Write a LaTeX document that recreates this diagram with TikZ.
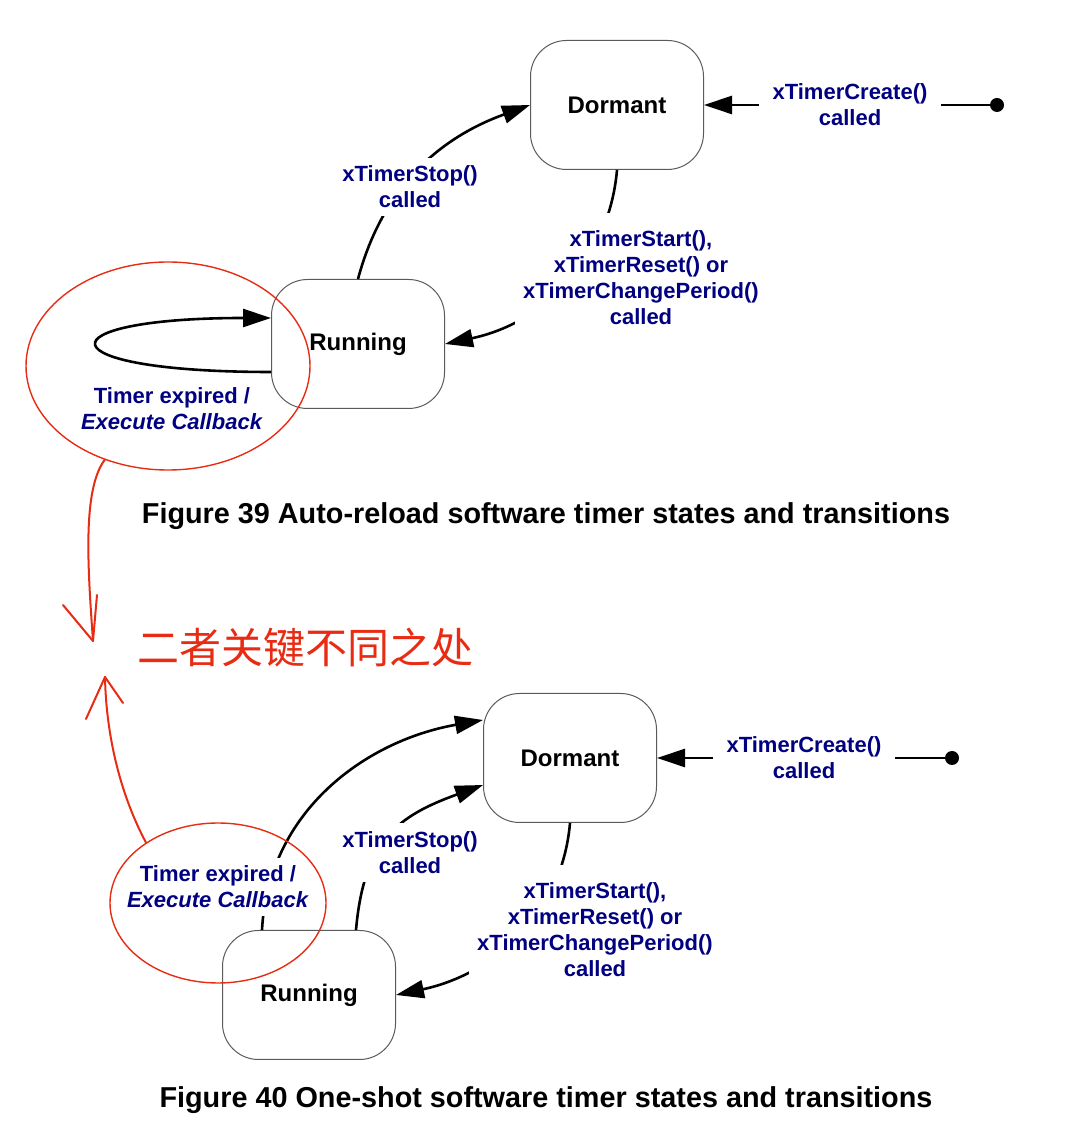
\documentclass[tikz,border=0pt]{standalone}
\usepackage{fontspec}
\setmainfont{Liberation Sans}
\newfontfamily\cjkfont{Noto Sans CJK SC}
\usetikzlibrary{arrows.meta,shapes.geometric}
\definecolor{navy}{RGB}{0,0,128}
\definecolor{redpen}{RGB}{232,44,20}
\definecolor{boxline}{RGB}{90,90,90}

\begin{document}
\begin{tikzpicture}[x=0.5pt,y=0.5pt,
    state/.style={draw=boxline,line width=0.5pt,rounded corners=18pt,
                  minimum width=86.5pt,minimum height=64.5pt,
                  font=\fontsize{12}{14}\selectfont\bfseries},
    lbl/.style={fill=white,inner sep=4pt,align=center,text=navy,
                font=\fontsize{11}{13}\selectfont\bfseries},
    trans/.style={line width=1.3pt,-{Triangle[length=14pt,width=9pt]}},
    wire/.style={line width=1.3pt},
    dotnode/.style={circle,fill,inner sep=0pt,minimum size=7pt},
    ring/.style={ellipse,draw=redpen,line width=0.7pt,inner sep=0pt},
    hand/.style={redpen,line width=1pt,line cap=round},
    capt/.style={font=\fontsize{14.4}{16}\selectfont\bfseries}]
  \useasboundingbox (0,0) rectangle (1066,1130);
  % auto-reload timer
  \node[state] (dorm1) at (617,1025) {Dormant};
  \node[state] (run1)  at (358,786)  {Running};
  \draw[trans] (run1.north) to[out=75,in=200] (dorm1.west);
  \draw[trans] (dorm1.south) to[out=-95,in=12] (run1.east);
  \draw[trans] ([yshift=-14pt]run1.west) .. controls +(-230,0) and +(-230,0)
    .. ([yshift=13pt]run1.west);
  \node[lbl] (stop1) at (410,943) {xTimerStop()\\called};
  \node[lbl,inner ysep=9pt] (start1) at (641,852)
    {xTimerStart(),\\xTimerReset() or\\xTimerChangePeriod()\\called};
  \node[lbl,fill=none] (expire1) at (172,721)
    {Timer expired /\\\textit{Execute Callback}};
  \node[lbl,inner xsep=6.5pt] (create1) at (850,1025) {xTimerCreate()\\called};
  \node[dotnode] (init1) at (997,1025) {};
  \draw[trans] (create1.west) -- (dorm1.east);
  \draw[wire] (create1.east) -- (init1);
  \node[capt] (cap1) at (546,614)
    {Figure 39 Auto-reload software timer states and transitions};
  % one-shot timer
  \node[state] (dorm2) at (570,372) {Dormant};
  \node[state] (run2)  at (309,135) {Running};
  \draw[trans] ([xshift=-23.5pt]run2.north) to[out=87,in=190] ([yshift=19pt]dorm2.west);
  \draw[trans] ([xshift=23.5pt]run2.north) to[out=85,in=200,looseness=1.2]
    ([yshift=-13.5pt]dorm2.west);
  \draw[trans] (dorm2.south) to[out=-95,in=12] (run2.east);
  \node[lbl] (expire2) at (218,243) {Timer expired /\\\textit{Execute Callback}};
  \node[lbl] (stop2) at (410,277.5) {xTimerStop()\\called};
  \node[lbl,inner ysep=9pt] (start2) at (595,200)
    {xTimerStart(),\\xTimerReset() or\\xTimerChangePeriod()\\called};
  \node[lbl,inner xsep=6.5pt] (create2) at (804,372) {xTimerCreate()\\called};
  \node[dotnode] (init2) at (952,372) {};
  \draw[trans] (create2.west) -- (dorm2.east);
  \draw[wire] (create2.east) -- (init2);
  \node[capt] (cap2) at (546,30)
    {Figure 40 One-shot software timer states and transitions};
  % red pen notes
  \node[ring,minimum width=142pt,minimum height=104pt] (ring1) at (168,764) {};
  \node[ring,minimum width=108pt,minimum height=80pt] (ring2) at (218,227) {};
  \node[text=redpen,font=\cjkfont\fontsize{21}{24}\selectfont] (note) at (305,482)
    {二者关键不同之处};
  \coordinate (downtip) at (93,489);
  \draw[hand] (ring1.236) .. controls (82,640) and (88,560) .. (downtip);
  \draw[hand] (downtip) -- ++(-30,36);
  \draw[hand] (downtip) -- ++(4,46);
  \coordinate (uptip) at (105,453);
  \draw[hand] (ring2.140) .. controls (118,340) and (106,400) .. (uptip);
  \draw[hand] (uptip) -- ++(-19,-42);
  \draw[hand] (uptip) -- ++(18,-26);
\end{tikzpicture}
\end{document}
